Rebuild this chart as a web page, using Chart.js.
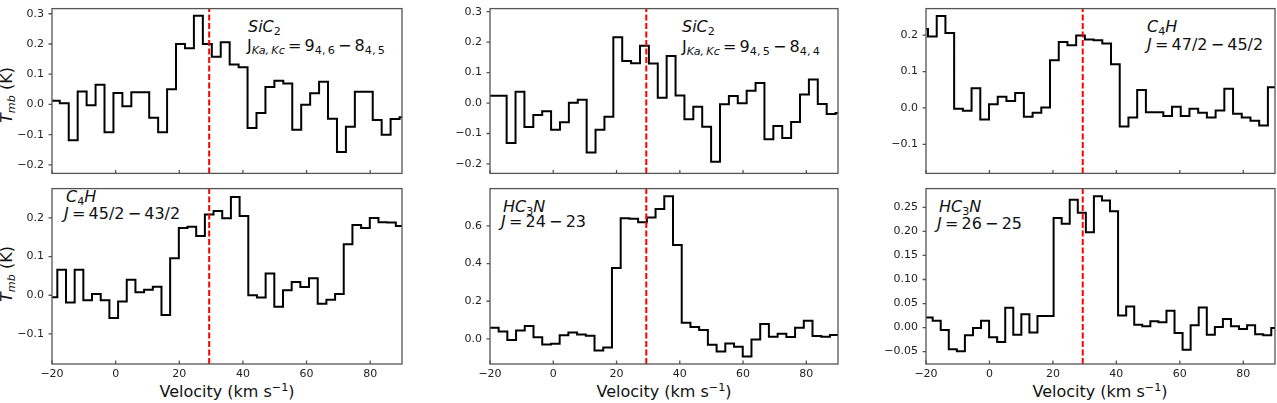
<!DOCTYPE html>
<html>
<head>
<meta charset="utf-8">
<script src="https://cdn.jsdelivr.net/npm/chart.js@4.4.1/dist/chart.umd.min.js"></script>
<style>
  body { margin: 0; width: 1277px; height: 403px; overflow: hidden; background: #fff; position: relative; font-family: 'DejaVu Sans', sans-serif; }
  canvas { position: absolute; }
  .lab { position: absolute; font-size: 16px; line-height: 1; white-space: nowrap; color: #111; }
  .lab sub { font-size: 0.7em; vertical-align: -0.28em; line-height: 0; }
  .lab sup { font-size: 0.7em; vertical-align: 0.5em; line-height: 0; }
  .rot { transform: translate(-50%, -50%) rotate(-90deg); }
  .ctr { transform: translateX(-50%); }
</style>
</head>
<body>

<div class="lab" style="left:248px;top:19px"><i>SiC</i><sub>2</sub></div>
<div class="lab" style="left:247px;top:38px">J<sub><i>Ka,&thinsp;Kc</i></sub>&thinsp;=&thinsp;9<sub>4,&thinsp;6</sub>&thinsp;&minus;&thinsp;8<sub>4,&thinsp;5</sub></div>

<div class="lab" style="left:682px;top:19px"><i>SiC</i><sub>2</sub></div>
<div class="lab" style="left:682px;top:39px">J<sub><i>Ka,&thinsp;Kc</i></sub>&thinsp;=&thinsp;9<sub>4,&thinsp;5</sub>&thinsp;&minus;&thinsp;8<sub>4,&thinsp;4</sub></div>

<div class="lab" style="left:1147px;top:19px"><i>C</i><sub>4</sub><i>H</i></div>
<div class="lab" style="left:1147px;top:36.5px"><i>J</i>&thinsp;=&thinsp;47/2&thinsp;&minus;&thinsp;45/2</div>

<div class="lab" style="left:66px;top:188.5px"><i>C</i><sub>4</sub><i>H</i></div>
<div class="lab" style="left:64px;top:205.5px"><i>J</i>&thinsp;=&thinsp;45/2&thinsp;&minus;&thinsp;43/2</div>

<div class="lab" style="left:503px;top:199px"><i>HC</i><sub>3</sub><i>N</i></div>
<div class="lab" style="left:501px;top:214px"><i>J</i>&thinsp;=&thinsp;24&thinsp;&minus;&thinsp;23</div>

<div class="lab" style="left:939px;top:199px"><i>HC</i><sub>3</sub><i>N</i></div>
<div class="lab" style="left:937px;top:215.5px"><i>J</i>&thinsp;=&thinsp;26&thinsp;&minus;&thinsp;25</div>

<div class="lab rot" style="left:7px;top:95px"><i>T</i><sub><i>mb</i></sub> (K)</div>
<div class="lab rot" style="left:7px;top:274px"><i>T</i><sub><i>mb</i></sub> (K)</div>

<div class="lab ctr" style="left:227px;top:384px">Velocity (km s<sup>&minus;1</sup>)</div>
<div class="lab ctr" style="left:664px;top:384px">Velocity (km s<sup>&minus;1</sup>)</div>
<div class="lab ctr" style="left:1100px;top:384px">Velocity (km s<sup>&minus;1</sup>)</div>

<script>
// velocity axis ticks and systemic velocity (red dashed line)
const velTicks = [-20, 0, 20, 40, 60, 80];
const vsys = 29.4;

// channel edges (km/s) for each line, last entry closes the last channel
const velSiC2 = [-20.36, -17.55, -14.74, -11.93, -9.12, -6.31, -3.50, -0.69, 2.12, 4.93,
  7.74, 10.55, 13.36, 16.17, 18.98, 21.79, 24.60, 27.41, 30.22, 33.03,
  35.84, 38.65, 41.46, 44.27, 47.08, 49.89, 52.70, 55.51, 58.32, 61.13,
  63.94, 66.75, 69.56, 72.37, 75.18, 77.99, 80.80, 83.61, 86.42, 89.23, 92.04];
const velC4H47 = [-22.12, -19.37, -16.62, -13.88, -11.13, -8.38, -5.64, -2.89, -0.14, 2.61,
  5.35, 8.10, 10.85, 13.59, 16.34, 19.09, 21.84, 24.58, 27.33, 30.08,
  32.82, 35.57, 38.32, 41.06, 43.81, 46.56, 49.31, 52.05, 54.80, 57.55,
  60.29, 63.04, 65.79, 68.53, 71.28, 74.03, 76.78, 79.52, 82.27, 85.02, 87.76, 90.51];
const velC4H45 = [-21.06, -18.33, -15.60, -12.87, -10.15, -7.42, -4.69, -1.96, 0.77, 3.49,
  6.22, 8.95, 11.68, 14.41, 17.13, 19.86, 22.59, 25.32, 28.05, 30.77,
  33.50, 36.23, 38.96, 41.69, 44.41, 47.14, 49.87, 52.60, 55.33, 58.05,
  60.78, 63.51, 66.24, 68.97, 71.69, 74.42, 77.15, 79.88, 82.61, 85.33, 88.06, 90.79];
const velHC3N24 = [-20.03, -17.27, -14.52, -11.76, -9.01, -6.25, -3.49, -0.74, 2.02, 4.77,
  7.53, 10.29, 13.04, 15.80, 18.55, 21.31, 24.07, 26.82, 29.58, 32.33,
  35.09, 37.85, 40.60, 43.36, 46.11, 48.87, 51.63, 54.38, 57.14, 59.89,
  62.65, 65.41, 68.16, 70.92, 73.67, 76.43, 79.19, 81.94, 84.70, 87.45, 90.21];
const velHC3N26 = [-20.44, -17.90, -15.36, -12.82, -10.28, -7.74, -5.19, -2.65, -0.11, 2.43,
  4.97, 7.51, 10.05, 12.59, 15.13, 17.68, 20.22, 22.76, 25.30, 27.84,
  30.38, 32.92, 35.46, 38.00, 40.54, 43.09, 45.63, 48.17, 50.71, 53.25,
  55.79, 58.33, 60.87, 63.41, 65.95, 68.50, 71.04, 73.58, 76.12, 78.66,
  81.20, 83.74, 86.28, 88.82, 91.36];

// Tmb (K) per channel
const sic2_946 = [0.012, 0.004, -0.118, 0.043, -0.003, 0.065, -0.092, 0.038, -0.006, 0.040,
  0.040, -0.044, -0.092, 0.050, 0.200, 0.186, 0.293, 0.200, 0.158, 0.206,
  0.132, 0.123, -0.078, -0.028, 0.058, 0.078, 0.069, -0.084, -0.001, 0.037,
  0.075, -0.047, -0.157, -0.074, 0.042, 0.042, -0.051, -0.100, -0.048, -0.042];
const sic2_945 = [0.024, 0.024, -0.131, 0.037, -0.079, -0.039, -0.027, -0.088, -0.063, 0.001,
  0.011, -0.162, -0.088, -0.045, 0.216, 0.138, 0.131, 0.188, 0.130, 0.017,
  0.154, 0.025, -0.053, -0.012, -0.078, -0.193, -0.004, 0.023, -0.001, 0.040,
  0.066, -0.119, -0.075, -0.115, -0.062, 0.028, 0.077, -0.003, -0.036, -0.033];
const c4h_47 = [0.217, 0.196, 0.253, 0.206, -0.002, -0.008, 0.054, -0.032, 0.010, 0.031,
  0.019, 0.041, -0.024, -0.013, 0.001, 0.131, 0.181, 0.172, 0.199, 0.188,
  0.186, 0.177, 0.120, -0.051, -0.026, 0.049, -0.012, -0.012, -0.022, 0.003,
  -0.022, -0.002, -0.013, -0.026, -0.007, 0.053, -0.016, -0.026, -0.035, -0.048, 0.057];
const c4h_45 = [-0.005, 0.066, -0.019, 0.066, -0.013, 0.003, -0.013, -0.059, -0.016, 0.040,
  0.008, 0.014, 0.022, -0.051, 0.096, 0.174, 0.177, 0.153, 0.209, 0.218,
  0.199, 0.254, 0.205, 0.000, -0.006, 0.056, -0.030, 0.013, 0.034, 0.021,
  0.044, -0.022, -0.012, 0.003, 0.132, 0.182, 0.174, 0.200, 0.189, 0.188, 0.179];
const hc3n_24 = [0.060, 0.040, -0.005, 0.045, 0.069, 0.009, -0.029, -0.026, 0.019, 0.034,
  0.024, 0.017, -0.062, -0.045, 0.376, 0.641, 0.638, 0.619, 0.645, 0.690,
  0.757, 0.498, 0.086, 0.064, 0.048, -0.031, -0.066, -0.024, -0.041, -0.093,
  -0.003, 0.079, 0.012, 0.028, 0.010, 0.059, 0.097, 0.016, 0.012, 0.021];
const hc3n_26 = [0.021, 0.014, -0.005, -0.045, -0.049, -0.016, -0.001, 0.014, -0.020, -0.030,
  0.041, -0.015, 0.028, -0.010, 0.024, 0.024, 0.228, 0.216, 0.266, 0.239,
  0.198, 0.273, 0.264, 0.242, 0.025, 0.044, 0.006, 0.003, 0.013, 0.011,
  0.035, -0.011, -0.046, 0.005, 0.042, -0.015, 0.001, 0.018, 0.003, -0.003,
  0.005, -0.014, -0.016, -0.001];

// y tick labels
const ticksSiC2 = [-0.2, -0.1, 0.0, 0.1, 0.2, 0.3];
const ticksC4H = [-0.1, 0.0, 0.1, 0.2];
const ticksHC3N24 = [0.0, 0.2, 0.4, 0.6];
const ticksHC3N26 = [-0.05, 0.00, 0.05, 0.10, 0.15, 0.20, 0.25];

const panels = [
  { vel: velSiC2, t: sic2_946, area: [52, 4, 402, 184], y: [-0.228, 0.317], ticks: ticksSiC2, dec: 1, bottom: false },
  { vel: velSiC2, t: sic2_945, area: [490, 4, 838, 184], y: [-0.231, 0.310], ticks: ticksSiC2, dec: 1, bottom: false },
  { vel: velC4H47, t: c4h_47, area: [926, 4, 1275, 184], y: [-0.180, 0.273], ticks: ticksC4H, dec: 1, bottom: false },
  { vel: velC4H45, t: c4h_45, area: [52, 184, 402, 364], y: [-0.178, 0.276], ticks: ticksC4H, dec: 1, bottom: true },
  { vel: velHC3N24, t: hc3n_24, area: [490, 184, 838, 364], y: [-0.133, 0.798], ticks: ticksHC3N24, dec: 1, bottom: true },
  { vel: velHC3N26, t: hc3n_26, area: [926, 184, 1275, 364], y: [-0.0757, 0.289], ticks: ticksHC3N26, dec: 2, bottom: true }
];

const minus = s => s.replace('-', '\u2212');

// box around the axes plus the short tick marks
const frame = {
  id: 'frame',
  afterDraw(chart, args, opts) {
    const { ctx, chartArea: a, scales } = chart;
    ctx.save();
    ctx.strokeStyle = '#555';
    ctx.lineWidth = 1.3;
    ctx.strokeRect(a.left, a.top, a.width, a.height);
    ctx.beginPath();
    velTicks.forEach(v => {
      const px = scales.x.getPixelForValue(v);
      ctx.moveTo(px, a.bottom);
      ctx.lineTo(px, a.bottom - 3.5);
    });
    opts.ticks.forEach(v => {
      const py = scales.y.getPixelForValue(v);
      ctx.moveTo(a.left, py);
      ctx.lineTo(a.left - 3.5, py);
    });
    ctx.stroke();
    ctx.restore();
  }
};

const PAD_L = 60, PAD_T = 10, PAD_R = 6;
const tickFont = { family: 'DejaVu Sans', size: 11 };

panels.forEach(p => {
  const [x0, y0, x1, y1] = p.area;
  const xh = p.bottom ? 26 : 4;
  const cv = document.createElement('canvas');
  cv.width = x1 - x0 + PAD_L + PAD_R;
  cv.height = y1 - y0 + PAD_T + xh;
  cv.style.left = (x0 - PAD_L) + 'px';
  cv.style.top = (y0 - PAD_T) + 'px';
  document.body.appendChild(cv);

  const steps = p.t.map((v, i) => ({ x: p.vel[i], y: v }));
  steps.push({ x: p.vel[p.t.length], y: p.t[p.t.length - 1] });

  new Chart(cv, {
    type: 'line',
    data: {
      datasets: [{
        data: [{ x: vsys, y: p.y[0] }, { x: vsys, y: p.y[1] }],
        borderColor: 'red',
        borderWidth: 2,
        borderDash: [6, 2.5],
        pointRadius: 0,
        clip: 0
      }, {
        data: steps,
        stepped: 'before',
        borderColor: '#000',
        borderWidth: 2,
        pointRadius: 0,
        clip: 0
      }]
    },
    options: {
      responsive: false,
      animation: false,
      events: [],
      layout: { padding: { top: PAD_T, right: PAD_R, left: 0, bottom: 0 } },
      plugins: { legend: { display: false }, tooltip: { enabled: false }, frame: { ticks: p.ticks } },
      scales: {
        x: {
          type: 'linear', min: -20, max: 90,
          grid: { display: false, drawTicks: false },
          border: { display: false },
          ticks: {
            display: p.bottom, font: tickFont, color: '#222', padding: 4, maxRotation: 0,
            callback: v => minus(String(v))
          },
          afterBuildTicks: s => { s.ticks = velTicks.map(v => ({ value: v })); },
          afterFit: s => { s.height = xh; }
        },
        y: {
          type: 'linear', min: p.y[0], max: p.y[1],
          grid: { display: false, drawTicks: false },
          border: { display: false },
          ticks: {
            font: tickFont, color: '#222', padding: 8,
            callback: v => minus(Number(v).toFixed(p.dec))
          },
          afterBuildTicks: s => { s.ticks = p.ticks.map(v => ({ value: v })); },
          afterFit: s => { s.width = PAD_L; }
        }
      }
    },
    plugins: [frame]
  });
});
</script>
</body>
</html>
